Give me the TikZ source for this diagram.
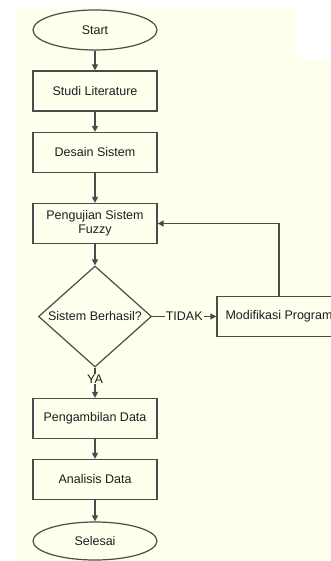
\documentclass[tikz,border=0pt]{standalone}
\usepackage{fontspec}
\setmainfont{Liberation Sans}
\usetikzlibrary{shapes.geometric,arrows.meta}

\definecolor{paper}{RGB}{255,255,238}
\definecolor{ink}{RGB}{75,75,75}
\definecolor{txt}{RGB}{30,30,30}

\begin{document}
\begin{tikzpicture}[
    x=1pt, y=-1pt,
    every node/.style={
        font=\fontsize{12.5}{14}\selectfont,
        text=txt
    },
    terminal/.style={
        ellipse,
        draw=ink,
        line width=1.2pt,
        minimum width=124pt,
        minimum height=40pt
    },
    box/.style={
        rectangle,
        draw=ink,
        line width=1.2pt,
        minimum width=124pt,
        minimum height=40pt,
        align=center
    },
    decision/.style={
        diamond,
        draw=ink,
        line width=1.2pt,
        inner sep=0pt,
        minimum width=113pt,
        minimum height=101pt
    },
    edge/.style={
        -{Triangle[width=6pt,length=6pt]},
        draw=ink,
        line width=1.2pt
    },
    answer/.style={
        fill=paper,
        inner sep=1pt
    }
]

    % page
    \clip (0,0) rectangle (331,561);
    \fill[paper] (15,7) -- (297,7) -- (297,60) -- (331,60) -- (331,561) -- (15,561) -- cycle;

    \node[terminal] (start) at (95,30) {Start};
    \node[box] (studi) at (95,91) {Studi Literature};
    \node[box] (desain) at (95,152.5) {Desain Sistem};
    \node[box, inner sep=2pt] (uji) at (95,223.5) {Pengujian Sistem\\Fuzzy};
    \node[decision] (cek) at (95,316.5) {\makebox[0pt]{Sistem Berhasil?}};
    \node[box] (modif) at (279,316.5) {Modifikasi Program};
    \node[box] (ambil) at (95,418.5) {Pengambilan Data};
    \node[box] (analisis) at (95,479.5) {Analisis Data};
    \node[terminal, minimum height=38pt] (selesai) at (95,541) {Selesai};

    \draw[edge] (start) -- (studi);
    \draw[edge] (studi) -- (desain);
    \draw[edge] (desain) -- (uji);
    \draw[edge] (uji) -- (cek);
    \draw[edge] (cek) -- node[answer] {TIDAK} (modif);
    \draw[edge] (modif.north) |- (uji.east);
    \draw[edge] (cek) -- node[answer, pos=0.38] {YA} (ambil);
    \draw[edge] (ambil) -- (analisis);
    \draw[edge] (analisis) -- (selesai);

\end{tikzpicture}
\end{document}
